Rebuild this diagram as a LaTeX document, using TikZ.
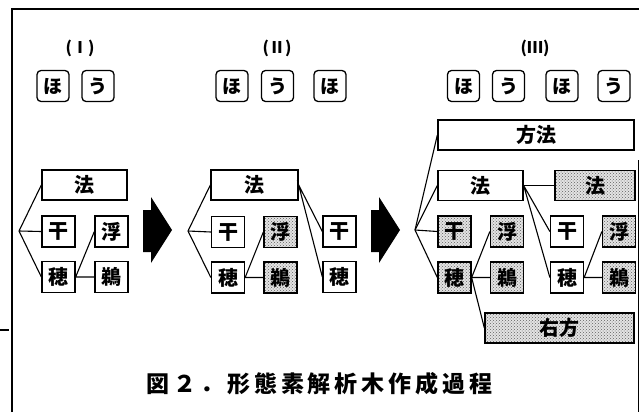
\documentclass[tikz,border=0pt]{standalone}
\usepackage{fontspec}
\newfontfamily\cjk{Noto Sans CJK JP}
\usetikzlibrary{patterns}

\tikzset{
  caja/.style={draw, line width=1.3pt, minimum width=33pt, minimum height=31pt,
    inner sep=0pt, font=\cjk\bfseries\fontsize{20}{20}\selectfont},
  cajalarga/.style={caja, minimum width=#1, minimum height=30pt},
  sombra/.style={preaction={fill=gray!22}, pattern=crosshatch dots, pattern color=gray!75!black},
  kana/.style={draw, line width=1.3pt, rounded corners=4pt, minimum width=32pt,
    minimum height=31pt, inner sep=0pt, font=\cjk\bfseries\fontsize{19}{19}\selectfont},
  etiqueta/.style={font=\cjk\bfseries\fontsize{16}{16}\selectfont},
  rama/.style={line width=1.1pt}
}

\begin{document}
\begin{tikzpicture}[x=1pt, y=-1pt]

		% 1. Marco
		\useasboundingbox (0,0) rectangle (639,412);
		\draw[line width=1.2pt] (12,412) -- (12,9) -- (639,9);
		\draw[line width=1.2pt] (638.4,160) -- (638.4,412);
		\draw[line width=1.2pt] (0,330) -- (9,330);

		% 2. Etiquetas de los pasos
		\node[etiqueta] (tI) at (80,48) {(Ⅰ)};
		\node[etiqueta] (tII) at (277,48) {(Ⅱ)};
		\node[etiqueta] (tIII) at (535,48) {(Ⅲ)};

		% 3. Caracteres de entrada
		\node[kana] (kaI1) at (53,86) {ほ};
		\node[kana] (kaI2) at (98,86) {う};
		\node[kana] (kaII1) at (232,86) {ほ};
		\node[kana] (kaII2) at (277.5,86) {う};
		\node[kana] (kaII3) at (330,86) {ほ};
		\node[kana] (kaIII1) at (463.5,86) {ほ};
		\node[kana] (kaIII2) at (508.5,86) {う};
		\node[kana] (kaIII3) at (562,86) {ほ};
		\node[kana] (kaIII4) at (614,86) {う};

		% 4. Arbol (I)
		\coordinate (rI) at (19,231);
		\node[cajalarga=85pt] (houI) at (84.5,185) {法};
		\node[caja] (kanI) at (58.5,231.5) {干};
		\node[caja] (hoI) at (58.5,277) {穂};
		\node[caja] (fuI) at (111.5,231.5) {浮};
		\node[caja] (uI) at (111.5,277) {鵜};
		\draw[rama] (houI.west) -- (rI) -- (hoI.west);
		\draw[rama] (rI) -- (kanI.west);
		\draw[rama] (fuI.west) -- (hoI.east) -- (uI.west);

		% 5. Arbol (II)
		\coordinate (rII) at (188,231);
		\node[cajalarga=87pt] (houII) at (254.5,185) {法};
		\node[caja] (kanII) at (228,232) {干};
		\node[caja] (hoII) at (228,277.5) {穂};
		\node[caja, sombra] (fuII) at (280.5,232) {浮};
		\node[caja, sombra] (uII) at (280.5,277.5) {鵜};
		\node[caja] (kanIIb) at (339.5,231.5) {干};
		\node[caja] (hoIIb) at (339.5,277) {穂};
		\draw[rama] (houII.west) -- (rII) -- (hoII.west);
		\draw[rama] (rII) -- (kanII.west);
		\draw[rama] (fuII.west) -- (hoII.east) -- (uII.west);
		\draw[rama] (kanIIb.west) -- (houII.east) -- (hoIIb.west);

		% 6. Arbol (III)
		\coordinate (rIII) at (415,230);
		\node[cajalarga=196pt] (houhouIII) at (536,135) {方法};
		\node[cajalarga=85pt] (houIII) at (480.5,185.5) {法};
		\node[cajalarga=80pt, sombra] (houIIIb) at (595,185.5) {法};
		\node[caja, sombra] (kanIII) at (454.5,231.5) {干};
		\node[caja, sombra] (hoIII) at (454.5,277.5) {穂};
		\node[caja, sombra] (fuIII) at (507,231.5) {浮};
		\node[caja, sombra] (uIII) at (507,277.5) {鵜};
		\node[caja] (kanIIIb) at (567,231.5) {干};
		\node[caja] (hoIIIb) at (567,277.5) {穂};
		\node[caja, sombra] (fuIIIb) at (619,231.5) {浮};
		\node[caja, sombra] (uIIIb) at (619,277.5) {鵜};
		\node[cajalarga=149pt, sombra] (uhouIII) at (559.5,328) {右方};
		\draw[rama] (houhouIII.west) -- (rIII) -- (hoIII.west);
		\draw[rama] (rIII) -- (houIII.west);
		\draw[rama] (rIII) -- (kanIII.west);
		\draw[rama] (fuIII.west) -- (hoIII.east) -- (uIII.west);
		\draw[rama] (hoIII.east) -- (uhouIII.west);
		\draw[rama] (houIII.east) -- (houIIIb.west);
		\draw[rama] (kanIIIb.west) -- (houIII.east) -- (hoIIIb.west);
		\draw[rama] (fuIIIb.west) -- (hoIIIb.east) -- (uIIIb.west);

		% 7. Flechas entre pasos
		\foreach \x in {143,371}
		\fill (\x,210) -- (\x+8,210) -- (\x+8,197) -- (\x+29,230) -- (\x+8,263) -- (\x+8,252) -- (\x,252) -- cycle;

		% 8. Titulo
		\node[font=\cjk\bfseries\fontsize{23}{23}\selectfont\addfontfeature{LetterSpace=17}] (titulo) at (319.5,384) {図２．形態素解析木作成過程};

	\end{tikzpicture}
\end{document}
